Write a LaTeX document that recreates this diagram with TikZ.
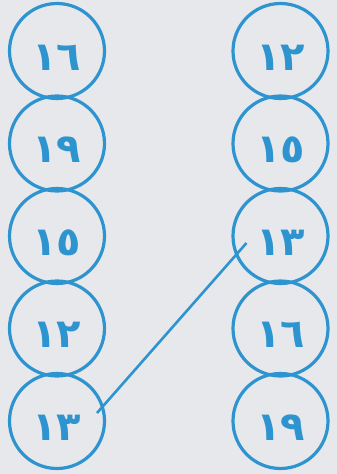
\documentclass[tikz,border=0pt]{standalone}
\usepackage{fontspec}
\newfontfamily\digitfont{DejaVu Sans}
\usetikzlibrary{positioning, calc}
\definecolor{ringBlue}{HTML}{2E94CF}
\definecolor{paperBg}{HTML}{E7E8EC}

\begin{document}
\begin{tikzpicture}[
        x=1pt, y=-1pt,
        every node/.style={font=\digitfont\bfseries\fontsize{40}{40}\selectfont},
        ring/.style={circle, draw=ringBlue, line width=3.2pt, text=ringBlue,
                     minimum size=95pt, inner sep=0pt, text height=38pt, text depth=0pt},
        link/.style={ringBlue, line width=2.6pt},
      ]
        % paper background
        \fill[paperBg] (0,0) rectangle (337,474);
        \useasboundingbox (0,0) rectangle (337,474);

        % Left column
        \node[ring] (l1) at (57,51) {١٦};
        \node[ring, below=-5.7pt of l1] (l2) {١٩};
        \node[ring, below=-5.7pt of l2] (l3) {١٥};
        \node[ring, below=-5.7pt of l3] (l4) {١٢};
        \node[ring, below=-5.7pt of l4] (l5) {١٣};

        % Right column
        \node[ring] (r1) at (280.5,51) {١٢};
        \node[ring, below=-5.7pt of r1] (r2) {١٥};
        \node[ring, below=-5.7pt of r2] (r3) {١٣};
        \node[ring, below=-5.7pt of r3] (r4) {١٦};
        \node[ring, below=-5.7pt of r4] (r5) {١٩};

        % matching line, ends just inside the rings
        \coordinate (l5in) at ($(l5.center)+(40,-8)$);
        \coordinate (r3in) at ($(r3.center)+(-34,7)$);
        \draw[link] (l5in) -- (r3in);
      \end{tikzpicture}
\end{document}
